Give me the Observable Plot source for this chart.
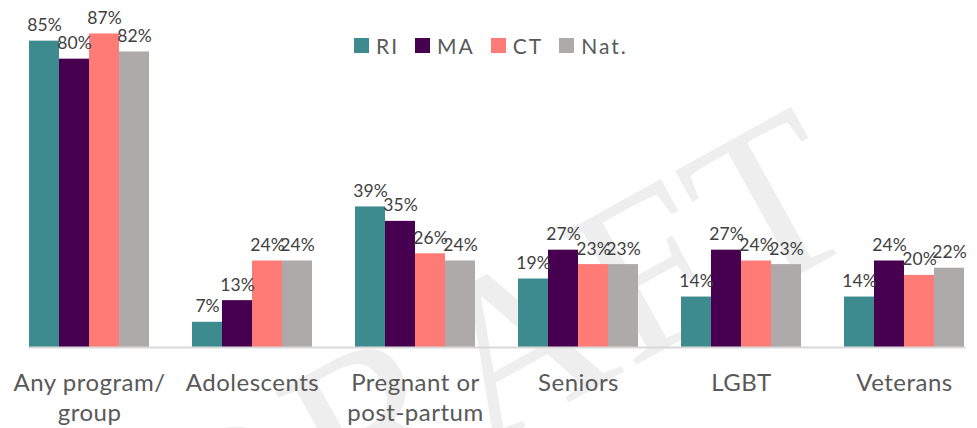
<!DOCTYPE html>
<html><head><meta charset="utf-8">
<script src="https://cdn.jsdelivr.net/npm/d3@7"></script>
<script src="https://cdn.jsdelivr.net/npm/@observablehq/plot@0.6"></script>
<style>
body{margin:0;background:#fff;font-family:Lato,sans-serif}
#wrap{position:relative;width:977px;height:428px;overflow:hidden;background:#fff}
#wm{position:absolute;left:495px;top:355px;transform:translate(-50%,-50%) rotate(-29deg);font-family:"Liberation Serif",serif;font-size:230px;line-height:1;color:#eeeeee;white-space:nowrap;letter-spacing:4px}
#chart{position:absolute;left:0;top:0}
#legend{position:absolute;left:354px;top:33px;display:flex;align-items:center;font-size:21px;color:#595959;letter-spacing:2px}
#legend .item{display:flex;align-items:center;margin-right:16px}
#legend .sw{width:15px;height:15px;margin-right:7px}
</style></head><body>
<div id="wrap"><div id="wm">DRAFT</div><div id="chart"></div><div id="legend"></div></div>
<script>
const categories = ["Any program/\ngroup", "Adolescents", "Pregnant or\npost-partum", "Seniors", "LGBT", "Veterans"];
const series = ["RI", "MA", "CT", "Nat."];
const colors = ["#3d8a8f", "#46004f", "#ff7b76", "#aeaaa9"];
const riValues = [85, 7, 39, 19, 14, 14];
const maValues = [80, 13, 35, 27, 27, 24];
const ctValues = [87, 24, 26, 23, 24, 20];
const natValues = [82, 24, 24, 23, 23, 22];

const seriesValues = [riValues, maValues, ctValues, natValues];
const data = [];
categories.forEach((c, i) => series.forEach((s, j) => data.push({category: c, series: s, value: seriesValues[j][i]})));

function build(baseline) {
  return Plot.plot({
    width: 977, height: 428,
    marginTop: 1, marginBottom: 81, marginLeft: 8, marginRight: 0,
    style: {background: "transparent", fontFamily: "Lato, sans-serif"},
    fx: {domain: categories, range: [6.5, 985.5], paddingInner: 0.264, paddingOuter: 0.132, label: null},
    x: {domain: series, padding: 0, axis: null},
    y: {domain: [0, 96], axis: null},
    color: {domain: series, range: colors},
    marks: [
      Plot.barY(data, {fx: "category", x: "series", y: "value", fill: "series"}),
      baseline,
      Plot.text(data, {fx: "category", x: "series", y: "value", text: d => d.value + "%", lineAnchor: "bottom", dy: -10, fontSize: 17.5, fill: "#404040"}),
      Plot.axisFx({anchor: "bottom", tickSize: 0, tickPadding: 22, fontSize: 24, lineHeight: 1.25, fill: "#595959", label: null})
    ]
  });
}
let chart;
try {
  chart = build(Plot.frame({anchor: "bottom", stroke: "#d9d9d9", strokeWidth: 2, facet: "super"}));
} catch (e) {
  chart = build(Plot.ruleY([0], {stroke: "#d9d9d9", strokeWidth: 2, insetLeft: -25, insetRight: -25}));
}
d3.select(chart).selectAll('g[aria-label="fx-axis tick label"] text').attr("letter-spacing", "0.5px");
document.getElementById("chart").appendChild(chart);

const legend = document.getElementById("legend");
series.forEach((s, j) => {
  const it = document.createElement("div"); it.className = "item";
  const sw = document.createElement("div"); sw.className = "sw"; sw.style.background = colors[j];
  const tx = document.createElement("span"); tx.textContent = s;
  it.appendChild(sw); it.appendChild(tx); legend.appendChild(it);
});
</script>
</body></html>
